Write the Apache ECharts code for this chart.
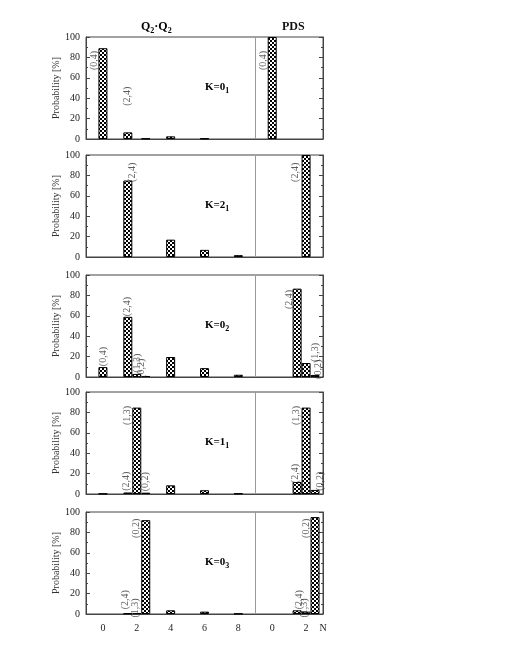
<!DOCTYPE html>
<html>
<head>
<meta charset="utf-8">
<script src="https://cdn.jsdelivr.net/npm/echarts@6/dist/echarts.min.js"></script>
<style>html,body{margin:0;padding:0;background:#fff}#c{width:505px;height:654px}</style>
</head>
<body>
<div id="c"></div>
<script>
// Bar positions on the shared N axis (Q2·Q2 part: 0..8, PDS part shifted by 10)
const qqX = [0, 1.47, 2, 2.53, 4, 6, 8];
const pdsX = [10, 11.47, 12, 12.53];
const pdsXPanel2 = [10, 11.47, 12, 12.53];

// Panel names (K states)
const panelK = ['0', '2', '0', '1', '0'];
const panelKSub = ['1', '1', '2', '1', '3'];

// Probabilities [%] per panel
const qq1 = [89, 6.5, null, 0.5, 2.6, 0.5, null];
const pds1 = [100, null, null, null];
const qq2 = [null, 75, null, null, 17, 7, 1.8];
const pds2 = [null, null, 100, null];
const qq3 = [9.7, 59, 3, 1, 19.6, 8.7, 2.2];
const pds3 = [null, 86.6, 13.7, 2];
const qq4 = [0.3, 1.5, 84.7, 1.3, 8.5, 3.7, 0.5];
const pds4 = [null, 11.8, 84.7, 4];
const qq5 = [null, 0.5, 1, 92, 3.6, 2.3, 0.3];
const pds5 = [null, 3.6, 2.3, 95];

// Bar annotation labels: [text, N position, height %]
const labels1 = [['(0,4)', -0.5, 77], ['(2,4)', 1.42, 42], ['(0,4)', 9.45, 77]];
const labels2 = [['(2,4)', 1.72, 83], ['(2,4)', 11.35, 83]];
const labels3 = [['(0,4)', 0.05, 20], ['(2,4)', 1.45, 69], ['(1,3)', 2.05, 13.5], ['(0,2)', 2.3, 8.5],
                 ['(2,4)', 11.0, 76], ['(1,3)', 12.55, 24], ['(0,2)', 12.75, 7.5]];
const labels4 = [['(2,4)', 1.38, 12.5], ['(1,3)', 1.44, 77], ['(0,2)', 2.5, 12],
                 ['(2,4)', 11.35, 20], ['(1,3)', 11.42, 77], ['(0,2)', 12.85, 12.5]];
const labels5 = [['(0,2)', 1.95, 84], ['(2,4)', 1.35, 14], ['(1,3)', 1.9, 6],
                 ['(0,2)', 12.0, 84], ['(2,4)', 11.6, 14], ['(1,3)', 11.9, 6]];

// Tick labels
const yTicks = [0, 20, 40, 60, 80, 100];
const xTickValues = [0, 2, 4, 6, 8, 10, 12, 13];
const xTickLabels = ['0', '2', '4', '6', '8', '0', '2', 'N'];
const dividerX = 9;

const qqPanels = [qq1, qq2, qq3, qq4, qq5];
const pdsPanels = [pds1, pds2, pds3, pds4, pds5];
const pdsPos = [pdsX, pdsXPanel2, pdsX, pdsX, pdsX];
const labelPanels = [labels1, labels2, labels3, labels4, labels5];

// pattern: black with white dots
const pc = document.createElement('canvas');
pc.width = 4; pc.height = 4;
const g = pc.getContext('2d');
g.fillStyle = '#000'; g.fillRect(0, 0, 4, 4);
g.fillStyle = '#fff';
g.fillRect(0, 0, 2, 2); g.fillRect(2, 2, 2, 2);

const FONT = 'Liberation Serif';
const tops = [37, 155, 275, 392, 512];
const H = 102, L = 86, W = 237;
const AX = '#444';

const grid = [], xAxis = [], yAxis = [], series = [], graphic = [];
tops.forEach((t, i) => {
  grid.push({left: L, top: t, width: W, height: H, show: true, borderColor: AX, borderWidth: 1, backgroundColor: 'transparent'});
  const last = i === tops.length - 1;
  xAxis.push({
    type: 'value', gridIndex: i, min: -1, max: 13, interval: 1,
    axisLine: {show: true, onZero: false, lineStyle: {color: AX}}, axisTick: {show: false}, splitLine: {show: false},
    axisLabel: {
      show: last, margin: 9, color: '#222', fontFamily: FONT, fontSize: 10,
      showMinLabel: true, showMaxLabel: true,
      formatter: v => { const k = xTickValues.indexOf(v); return k >= 0 ? xTickLabels[k] : ''; }
    }
  });
  yAxis.push({
    type: 'value', gridIndex: i, position: 'left', min: yTicks[0], max: yTicks[yTicks.length - 1], interval: 20,
    name: 'Probability [%]', nameLocation: 'middle', nameGap: 20, nameRotate: 90,
    nameTextStyle: {fontFamily: FONT, fontSize: 10, color: '#333'},
    axisLine: {show: true, onZero: false, lineStyle: {color: AX}}, splitLine: {show: false},
    axisTick: {show: true, inside: true, length: 4, lineStyle: {color: AX}},
    minorTick: {show: true, splitNumber: 2, length: 2, lineStyle: {color: AX}},
    axisLabel: {color: '#222', fontFamily: FONT, fontSize: 10, margin: 6}
  });
  yAxis.push({
    type: 'value', gridIndex: i, position: 'right', min: 0, max: 100, interval: 20,
    axisLine: {show: true, onZero: false, lineStyle: {color: AX}}, splitLine: {show: false}, axisLabel: {show: false},
    axisTick: {show: true, inside: true, length: 4, lineStyle: {color: AX}},
    minorTick: {show: true, splitNumber: 2, length: 2, lineStyle: {color: AX}}
  });
  const data = [];
  qqPanels[i].forEach((v, k) => { if (v !== null) data.push([qqX[k], v]); });
  pdsPanels[i].forEach((v, k) => { if (v !== null) data.push([pdsPos[i][k], v]); });
  series.push({
    type: 'bar', xAxisIndex: i, yAxisIndex: 2 * i, data: data, barWidth: 9,
    itemStyle: {color: {image: pc, repeat: 'repeat'}, borderColor: '#000', borderWidth: 1},
    silent: true, animation: false,
    markLine: {silent: true, symbol: 'none', label: {show: false},
      lineStyle: {color: '#999', width: 1, type: 'solid'}, data: [{xAxis: dividerX}]}
  });
  series.push({
    type: 'scatter', xAxisIndex: i, yAxisIndex: 2 * i, symbolSize: 0, silent: true, animation: false,
    data: labelPanels[i].map(l => ({value: [l[1], l[2]], name: l[0]})),
    label: {show: true, position: 'inside', rotate: 90, formatter: p => p.name,
      fontFamily: FONT, fontSize: 10, color: '#333'}
  });
  graphic.push({
    type: 'text', left: 205, top: t + 45,
    style: {
      text: '{b|K=' + panelK[i] + '}{s|' + panelKSub[i] + '}',
      rich: {b: {fontFamily: FONT, fontWeight: 'bold', fontSize: 11, color: '#111'},
             s: {fontFamily: FONT, fontWeight: 'bold', fontSize: 8, color: '#111', padding: [6, 0, 0, 0]}}
    }
  });
});

graphic.push({
  type: 'text', left: 141, top: 21,
  style: {text: '{b|Q}{s|2}{b|·Q}{s|2}',
    rich: {b: {fontFamily: FONT, fontWeight: 'bold', fontSize: 12, color: '#111'},
           s: {fontFamily: FONT, fontWeight: 'bold', fontSize: 8, color: '#111', padding: [7, 0, 0, 0]}}}
});
graphic.push({
  type: 'text', left: 282, top: 21,
  style: {text: 'PDS', fontFamily: FONT, fontWeight: 'bold', fontSize: 12, fill: '#111'}
});

const chart = echarts.init(document.getElementById('c'), null, {renderer: 'canvas'});
chart.setOption({animation: false, grid, xAxis, yAxis, series, graphic});
</script>
</body>
</html>
